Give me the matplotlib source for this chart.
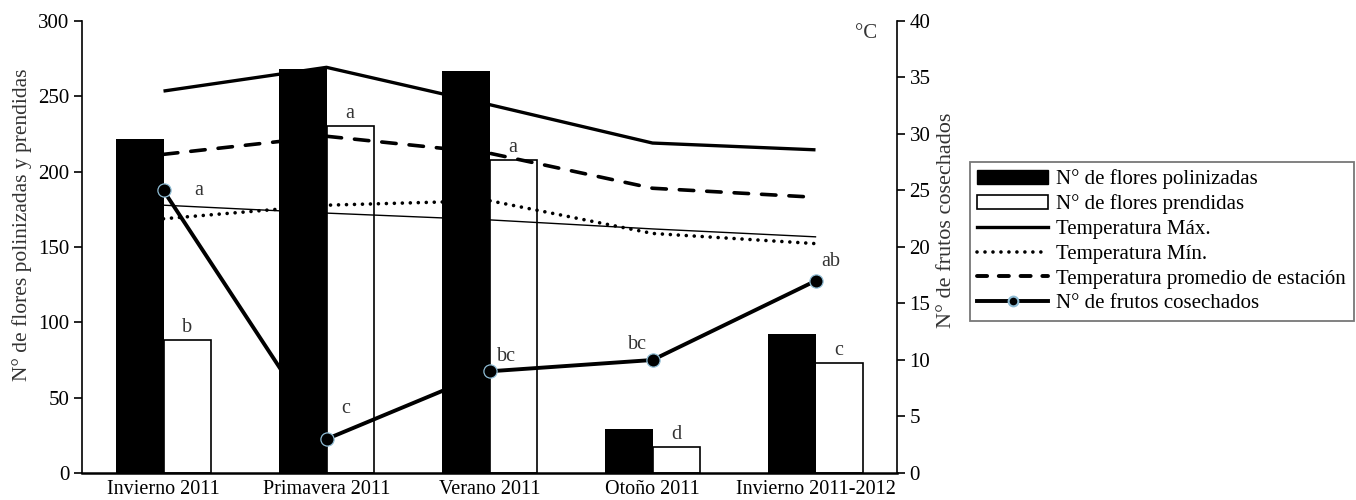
import numpy as np
import matplotlib
matplotlib.use("Agg")
import matplotlib.pyplot as plt
from matplotlib.patches import Patch
from matplotlib.lines import Line2D

plt.rcParams['font.family'] = ['Liberation Serif', 'DejaVu Serif']
plt.rcParams['font.size'] = 14

# data
seasons = ['Invierno 2011', 'Primavera 2011', 'Verano 2011', 'Otoño 2011', 'Invierno 2011-2012']
flores_polinizadas = [222, 268, 267, 29, 92]
flores_prendidas = [88, 230, 208, 17, 73]
letras_prendidas = ['b', 'a', 'a', 'd', 'c']
temp_max = [33.8, 35.9, 32.6, 29.2, 28.6]
temp_min = [22.5, 23.7, 24.1, 21.2, 20.3]
temp_prom = [28.2, 29.8, 28.3, 25.2, 24.4]
temp_fina = [23.7, 23.0, 22.4, 21.6, 20.9]  # thin line, not in the legend
frutos = [25, 3, 9, 10, 17]
letras_frutos = ['a', 'c', 'bc', 'bc', 'ab']
# label offsets (points) for the fruit letters
off_frutos = [(25, 0), (14, 22), (12, 11), (-11, 11), (11, 14)]

x = np.arange(len(seasons))
w = 0.29
blue_edge = '#8fbcd4'
txt_col = '#333333'
dotted = (0, (0.01, 2.2))
dashed = (0, (4.0, 3.6))

fig = plt.figure(figsize=(13.56, 5), dpi=100)
ax = fig.add_axes([82 / 1356, 27 / 500, 815 / 1356, 452 / 500])
ax_t = ax.twinx()   # temperature lines (bottom layer)
ax_m = ax.twinx()   # markers + letters (top layer)
ax.set_zorder(ax_t.get_zorder() + 1)
ax.patch.set_visible(False)
ax_m.set_zorder(ax.get_zorder() + 1)
ax_m.patch.set_visible(False)

# lines on right scale
ax_t.plot(x, temp_max, color='black', lw=2.4, solid_capstyle='butt')
ax_t.plot(x, temp_min, color='black', lw=2.6, linestyle=dotted, dash_capstyle='round')
ax_t.plot(x, temp_prom, color='black', lw=2.6, linestyle=dashed, dash_capstyle='round')
ax_t.plot(x, temp_fina, color='black', lw=1.0)
ax_t.plot(x, frutos, color='black', lw=2.8)

# bars on left scale
ax.bar(x - w / 2, flores_polinizadas, w, color='black', edgecolor='black', lw=0)
ax.bar(x + w / 2, flores_prendidas, w, facecolor='none', edgecolor='black', lw=1.2)
for xi, v, t in zip(x, flores_prendidas, letras_prendidas):
    ax.text(xi + w / 2, v + 2, t, ha='center', va='bottom', color=txt_col, fontsize=14.5)

# markers on top
ax_m.plot(x, frutos, linestyle='none', marker='o', markersize=9.5,
          markerfacecolor='black', markeredgecolor=blue_edge, markeredgewidth=0.9)
for xi, v, t, o in zip(x, frutos, letras_frutos, off_frutos):
    ax_m.annotate(t, (xi, v), xytext=o, textcoords='offset points',
                  ha='center', va='center', color=txt_col, fontsize=14.5)

for a in (ax, ax_t, ax_m):
    a.set_xlim(-0.5, 4.5)
ax.set_ylim(0, 300)
ax_t.set_ylim(0, 40)
ax_m.set_ylim(0, 40)
ax_m.axis('off')

ax.set_yticks(np.arange(0, 301, 50))
ax.set_xticks(x)
ax.set_xticklabels(seasons, fontsize=14.5)
ax.tick_params(axis='x', length=0, pad=5)
ax.tick_params(axis='y', length=6, width=1.2, direction='out', pad=3, labelsize=15)
ax_t.set_yticks(np.arange(0, 41, 5))
ax_t.tick_params(axis='y', length=6, width=1.2, direction='out', pad=3, labelsize=15)

for s in ('top', 'right'):
    ax.spines[s].set_visible(False)
for s in ('top', 'left', 'bottom'):
    ax_t.spines[s].set_visible(False)
ax.spines['left'].set_linewidth(1.2)
ax.spines['bottom'].set_linewidth(1.8)
ax_t.spines['right'].set_linewidth(1.2)

ax.set_ylabel('N° de flores polinizadas y prendidas', color=txt_col, fontsize=15.5)
ax.yaxis.set_label_coords(-0.061, 0.55)
ax_t.set_ylabel('N° de frutos cosechados', color=txt_col, fontsize=16)
ax_t.yaxis.set_label_coords(1.049, 0.56)
ax.text(0.962, 0.973, '°C', transform=ax.transAxes, ha='center', va='center',
        color=txt_col, fontsize=15)

handles = [
    Patch(facecolor='black', edgecolor='black'),
    Patch(facecolor='white', edgecolor='black', lw=1.2),
    Line2D([], [], color='black', lw=2.4),
    Line2D([], [], color='black', lw=2.6, linestyle=dotted, dash_capstyle='round'),
    Line2D([], [], color='black', lw=2.8, linestyle=(0, (2.6, 3.0)), dash_capstyle='round'),
    Line2D([], [], color='black', lw=2.8, marker='o', markersize=7,
           markerfacecolor='black', markeredgecolor=blue_edge, markeredgewidth=1.5),
]
labels = ['N° de flores polinizadas', 'N° de flores prendidas', 'Temperatura Máx.',
          'Temperatura Mín.', 'Temperatura promedio de estación', 'N° de frutos cosechados']
leg = fig.legend(handles, labels, loc='upper left', bbox_to_anchor=(970 / 1356, 1 - 162 / 500),
                 frameon=True, fancybox=False, edgecolor='#555555', handlelength=3.4,
                 handletextpad=0.4, labelspacing=0.25, borderpad=0.35, borderaxespad=0,
                 fontsize=15)
leg.get_frame().set_linewidth(1.3)

fig.savefig('out.png', dpi=100)
